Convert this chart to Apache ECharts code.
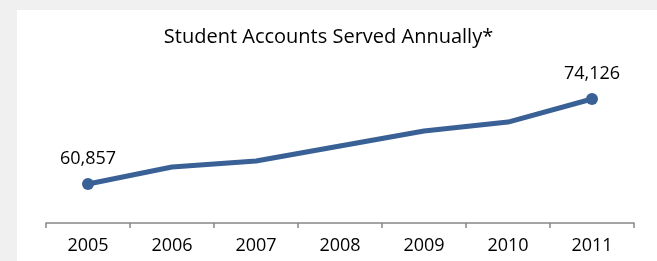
<!DOCTYPE html>
<html>
<head>
<meta charset="utf-8">
<script src="https://cdn.jsdelivr.net/npm/echarts@6/dist/echarts.min.js"></script>
<style>
  html, body { margin: 0; padding: 0; background: #f0f0f0; }
  #chart { width: 657px; height: 261px; }
</style>
</head>
<body>
<div id="chart"></div>
<script>
    // years on the x axis
    var years = ['2005', '2006', '2007', '2008', '2009', '2010', '2011'];
    // student accounts served (only the ends are labelled)
    var accounts = [60857, 63500, 64450, 66790, 69130, 70530, 74126];

    var chart = echarts.init(document.getElementById('chart'));
    var lastIdx = accounts.length - 1;
    var isEnd = function (i) { return i === 0 || i === lastIdx; };

    chart.setOption({
        backgroundColor: '#f0f0f0',
        animation: false,
        graphic: [{
            type: 'rect',
            z: -10,
            shape: { x: 17, y: 10, width: 660, height: 260 },
            style: { fill: '#ffffff' }
        }],
        title: {
            text: 'Student Accounts Served Annually*',
            left: 'center',
            top: 22,
            textStyle: {
                color: '#000000',
                fontFamily: 'Open Sans',
                fontWeight: 'normal',
                fontSize: 20
            }
        },
        grid: {
            left: 46,
            right: 23,
            top: 60,
            bottom: 38
        },
        xAxis: {
            type: 'category',
            data: years,
            boundaryGap: true,
            axisLine: {
                lineStyle: { color: '#868686', width: 1.5 }
            },
            axisTick: {
                show: true,
                length: 5,
                lineStyle: { color: '#868686', width: 1.5 }
            },
            axisLabel: {
                color: '#000000',
                fontFamily: 'Open Sans',
                fontSize: 18,
                margin: 14
            }
        },
        yAxis: {
            type: 'value',
            show: false,
            min: 54770,
            max: 80214,
            splitLine: { show: false }
        },
        series: [{
            type: 'line',
            data: accounts,
            lineStyle: { color: '#3a6195', width: 5 },
            itemStyle: { color: '#3a6195' },
            symbol: 'circle',
            symbolSize: function (v, params) {
                return isEnd(params.dataIndex) ? 12 : 0;
            },
            label: {
                show: true,
                position: 'top',
                distance: 10,
                color: '#000000',
                fontFamily: 'Open Sans',
                fontSize: 18,
                formatter: function (p) {
                    return isEnd(p.dataIndex) ? p.value.toLocaleString('en-US') : '';
                }
            }
        }]
    });
</script>
</body>
</html>
